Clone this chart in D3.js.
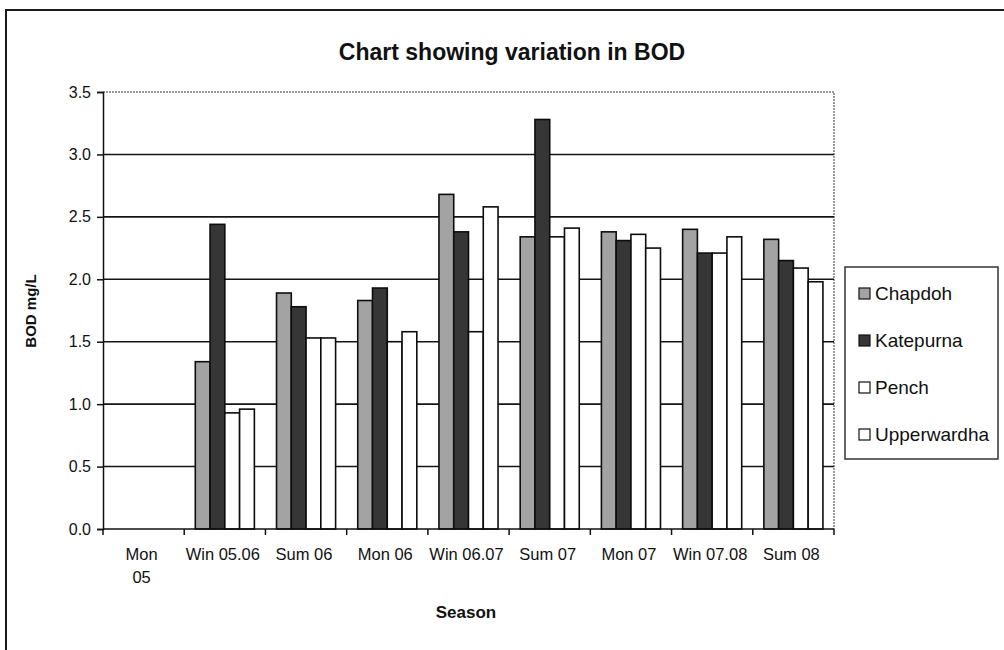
<!DOCTYPE html>
<html>
<head>
<meta charset="utf-8">
<script src="https://cdn.jsdelivr.net/npm/d3@7"></script>
<style>
  html, body { margin: 0; padding: 0; background: #fff; }
  svg { display: block; }
  text { font-family: Arial, "Liberation Sans", sans-serif; fill: #111; }
</style>
</head>
<body>
<svg id="chart" width="1004" height="650"></svg>
<script>
// Seasons along the x axis (label lines)
const seasons = [["Mon", "05"], ["Win 05.06"], ["Sum 06"], ["Mon 06"], ["Win 06.07"],
                 ["Sum 07"], ["Mon 07"], ["Win 07.08"], ["Sum 08"]];
const seasonKeys = seasons.map(s => s.join(" "));

// Reservoirs (series)
const sites = ["Chapdoh", "Katepurna", "Pench", "Upperwardha"];

// BOD (mg/L) per season, one array per site; Mon 05 has no readings
const chapdoh     = [null, 1.34, 1.89, 1.83, 2.68, 2.34, 2.38, 2.40, 2.32];
const katepurna   = [null, 2.44, 1.78, 1.93, 2.38, 3.28, 2.31, 2.21, 2.15];
const pench       = [null, 0.93, 1.53, 1.50, 1.58, 2.34, 2.36, 2.21, 2.09];
const upperwardha = [null, 0.96, 1.53, 1.58, 2.58, 2.41, 2.25, 2.34, 1.98];
const seriesValues = [chapdoh, katepurna, pench, upperwardha];

// Y axis ticks
const yTicks = [0.0, 0.5, 1.0, 1.5, 2.0, 2.5, 3.0, 3.5];

const fills = ["#a3a3a3", "#363636", "#ffffff", "#ffffff"];

const svg = d3.select("#chart");

// outer chart frame
svg.append("path")
  .attr("d", "M6,652 L6,10 L1006,10")
  .attr("fill", "none").attr("stroke", "#1a1a1a").attr("stroke-width", 2);

const plot = { left: 103, right: 834, top: 92, bottom: 529 };

const y = d3.scaleLinear().domain([0, 3.5]).range([plot.bottom, plot.top]);
const x0 = d3.scaleBand().domain(seasonKeys).range([plot.left, plot.right]).paddingInner(0).paddingOuter(0);
const bw = x0.bandwidth();
const gap = bw * 1.5 / 5.5;
const x1 = d3.scaleBand().domain(sites).range([gap / 2, bw - gap / 2]).padding(0);

// plot area border (dotted top and right edges)
svg.append("path")
  .attr("d", `M${plot.left},${plot.top} L${plot.right},${plot.top} L${plot.right},${plot.bottom}`)
  .attr("fill", "none").attr("stroke", "#7a7a7a").attr("stroke-width", 1.5)
  .attr("stroke-dasharray", "2,1");

// horizontal gridlines
svg.append("g")
  .selectAll("line")
  .data(yTicks.filter(v => v > 0 && v < 3.5))
  .join("line")
  .attr("x1", plot.left).attr("x2", plot.right)
  .attr("y1", d => y(d)).attr("y2", d => y(d))
  .attr("stroke", "#151515").attr("stroke-width", 1.6);

// bars
const groups = svg.append("g")
  .selectAll("g")
  .data(seasonKeys)
  .join("g")
  .attr("transform", d => `translate(${x0(d)},0)`);

groups.selectAll("rect")
  .data((d, i) => sites.map((s, j) => ({ site: s, value: seriesValues[j][i], idx: j })).filter(e => e.value != null))
  .join("rect")
  .attr("x", d => x1(d.site))
  .attr("width", x1.bandwidth())
  .attr("y", d => y(d.value))
  .attr("height", d => y(0) - y(d.value))
  .attr("fill", d => fills[d.idx])
  .attr("stroke", "#0d0d0d").attr("stroke-width", 1.6);

// y axis
const yAxis = svg.append("g")
  .attr("transform", `translate(${plot.left},0)`)
  .call(d3.axisLeft(y).tickValues(yTicks).tickFormat(d3.format(".1f")).tickSize(6).tickPadding(6));
yAxis.select(".domain").attr("stroke", "#111").attr("stroke-width", 1.5);
yAxis.selectAll(".tick line").attr("stroke", "#111").attr("stroke-width", 1.5);
yAxis.selectAll(".tick text").style("font-size", "16px").attr("fill", "#222");

// x axis with ticks at category boundaries
const xAxisG = svg.append("g").attr("transform", `translate(0,${plot.bottom})`);
xAxisG.append("line")
  .attr("x1", plot.left).attr("x2", plot.right)
  .attr("stroke", "#111").attr("stroke-width", 1.5);
const bounds = seasonKeys.map(k => x0(k)).concat([plot.right]);
xAxisG.selectAll(".btick")
  .data(bounds)
  .join("line")
  .attr("class", "btick")
  .attr("x1", d => d).attr("x2", d => d)
  .attr("y1", 0).attr("y2", 6)
  .attr("stroke", "#111").attr("stroke-width", 1.5);

const xl = xAxisG.selectAll(".xlab")
  .data(seasons)
  .join("text")
  .attr("class", "xlab")
  .attr("text-anchor", "middle")
  .attr("x", (d, i) => x0(seasonKeys[i]) + bw / 2 - 2)
  .attr("y", 31)
  .style("font-size", "16.5px")
  .attr("fill", "#222");
xl.selectAll("tspan")
  .data(d => d)
  .join("tspan")
  .attr("x", function () { return d3.select(this.parentNode).attr("x"); })
  .attr("dy", (d, i) => i === 0 ? 0 : 23)
  .text(d => d);

// title
svg.append("text")
  .attr("x", 512).attr("y", 60)
  .attr("text-anchor", "middle")
  .style("font-size", "23px").style("font-weight", "bold")
  .text("Chart showing variation in BOD");

// axis titles
svg.append("text")
  .attr("transform", "translate(36,311) rotate(-90)")
  .attr("text-anchor", "middle")
  .style("font-size", "15px").style("font-weight", "bold")
  .text("BOD mg/L");

svg.append("text")
  .attr("x", 466).attr("y", 618)
  .attr("text-anchor", "middle")
  .style("font-size", "17px").style("font-weight", "bold")
  .text("Season");

// legend
const legend = svg.append("g");
legend.append("rect")
  .attr("x", 845).attr("y", 267).attr("width", 153).attr("height", 192)
  .attr("fill", "#fff").attr("stroke", "#333").attr("stroke-width", 1.5);
const items = legend.selectAll(".item")
  .data(sites)
  .join("g")
  .attr("class", "item")
  .attr("transform", (d, i) => `translate(0,${300 + i * 47})`);
items.append("rect")
  .attr("x", 859).attr("y", -12).attr("width", 11).attr("height", 11)
  .attr("fill", (d, i) => fills[i]).attr("stroke", "#111").attr("stroke-width", 1.2);
items.append("text")
  .attr("x", 875).attr("y", 0)
  .style("font-size", "19px").attr("fill", "#222")
  .text(d => d);
</script>
</body>
</html>
